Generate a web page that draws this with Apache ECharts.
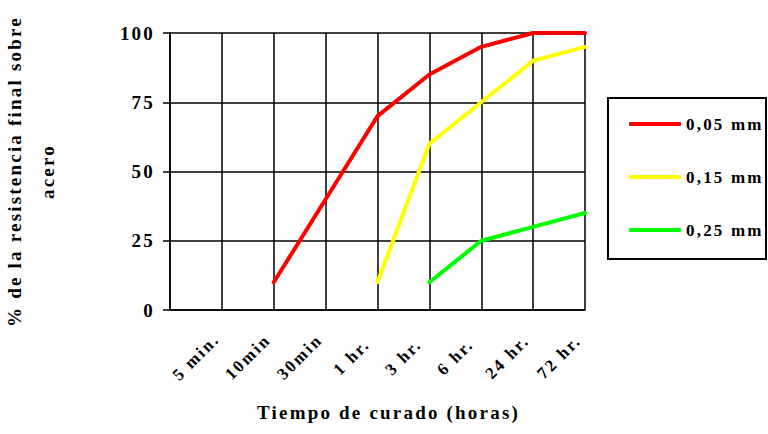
<!DOCTYPE html>
<html>
<head>
<meta charset="utf-8">
<script src="https://cdn.jsdelivr.net/npm/echarts@6/dist/echarts.min.js"></script>
<style>
  html, body { margin: 0; padding: 0; background: #fff; }
  #chart { width: 768px; height: 434px; }
  /* el original tiene el texto muy espaciado */
  #chart text { letter-spacing: 2.2px; }
</style>
</head>
<body>
<div id="chart"></div>
<script>
// categorias del eje x (una por columna)
const tiempos = ["5 min.", "10min", "30min", "1 hr.", "3 hr.", "6 hr.", "24 hr.", "72 hr."];
// los puntos caen sobre las lineas divisorias (9 bordes)
const bordes = ["0", "1", "2", "3", "4", "5", "6", "7", "8"];
const serieNombres = ["0,05 mm", "0,15 mm", "0,25 mm"];
const valores005 = [null, null, 10, 40, 70, 85, 95, 100, 100];
const valores015 = [null, null, null, null, 10, 60, 75, 90, 95];
const valores025 = [null, null, null, null, null, 10, 25, 30, 35];
const colores = ["#ff0000", "#ffff00", "#00ff00"];

const fuente = "Liberation Serif";

let myChart = echarts.init(document.getElementById("chart"), null, { renderer: "svg" });

function serie(nombre, datos, color) {
  return {
    name: nombre,
    type: "line",
    xAxisIndex: 1,
    data: datos,
    symbol: "none",
    color: color,
    lineStyle: { color: color, width: 4, cap: "round", join: "round" },
  };
}

myChart.setOption({
  animation: false,
  textStyle: { fontFamily: fuente, fontWeight: "bold", color: "#000" },
  grid: {
    left: 170,
    right: 183,
    top: 33,
    bottom: 124,
    containLabel: false,
    outerBoundsMode: "none",
  },
  legend: {
    orient: "vertical",
    left: 629,
    top: 114,
    padding: 0,
    icon: "roundRect",
    itemWidth: 52,
    itemHeight: 4,
    itemGap: 33,
    data: serieNombres,
    textStyle: { fontFamily: fuente, fontWeight: "bold", fontSize: 17, lineHeight: 20, color: "#000" },
  },
  graphic: [
    {
      type: "rect",
      shape: { x: 608, y: 98, width: 158, height: 161 },
      style: { fill: "none", stroke: "#000", lineWidth: 2 },
    },
  ],
  xAxis: [
    {
      type: "category",
      data: tiempos,
      boundaryGap: true,
      name: "Tiempo de curado (horas)",
      nameLocation: "middle",
      nameGap: 93,
      nameTextStyle: { fontFamily: fuente, fontWeight: "bold", fontSize: 19, padding: [0, 0, 0, 22] },
      axisLine: { lineStyle: { color: "#000", width: 1.5 } },
      axisTick: { show: false },
      axisLabel: {
        rotate: 45,
        align: "center",
        verticalAlign: "middle",
        margin: 47,
        fontSize: 17,
        fontFamily: fuente,
        fontWeight: "bold",
        color: "#000",
        interval: 0,
      },
      splitLine: { show: true, lineStyle: { color: "#000", width: 1.5 } },
    },
    {
      type: "category",
      data: bordes,
      boundaryGap: false,
      show: false,
    },
  ],
  yAxis: {
    type: "value",
    min: 0,
    max: 100,
    interval: 25,
    name: "% de la resistencia final sobre\nacero",
    nameLocation: "middle",
    nameRotate: 90,
    nameGap: 106,
    nameTextStyle: { fontFamily: fuente, fontWeight: "bold", fontSize: 19, lineHeight: 33, align: "center" },
    axisLine: { show: true, lineStyle: { color: "#000", width: 1.5 } },
    axisTick: { show: true, length: 7, lineStyle: { color: "#000", width: 1.5 } },
    axisLabel: { margin: 15, fontSize: 19, fontFamily: fuente, fontWeight: "bold", color: "#000" },
    splitLine: { lineStyle: { color: "#000", width: 1.5 } },
  },
  series: [
    serie(serieNombres[0], valores005, colores[0]),
    serie(serieNombres[1], valores015, colores[1]),
    serie(serieNombres[2], valores025, colores[2]),
  ],
});

window.addEventListener("resize", () => {
  myChart.resize();
});
</script>
</body>
</html>
